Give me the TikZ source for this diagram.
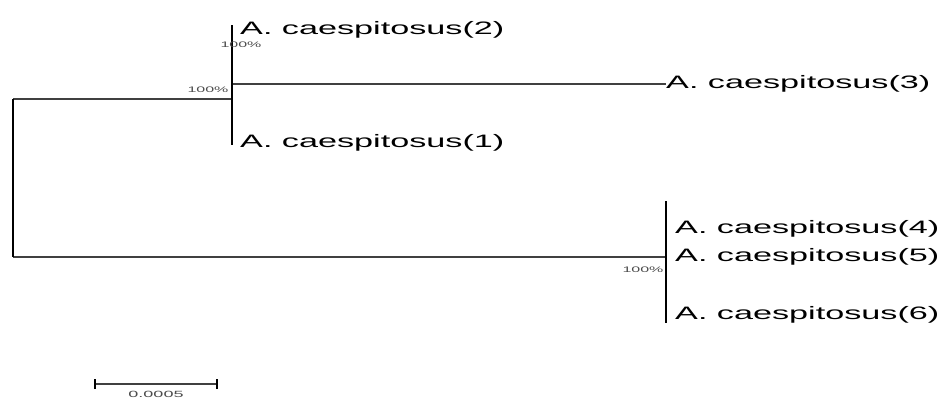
\documentclass[tikz,border=0pt]{standalone}
\usepackage{graphicx}
\usepackage{fontspec}
\setmainfont{Liberation Sans}
\usepackage{tikz}
\usetikzlibrary{positioning}

\newcommand{\taxon}[1]{\scalebox{1.9}[1]{A. caespitosus(#1)}}
\newcommand{\support}[1]{\scalebox{2}[1]{#1}}

\begin{document}
\begin{tikzpicture}[x=1pt, y=-1pt,
		leaf/.style={anchor=west, inner sep=0pt, font=\fontsize{18}{18}\selectfont},
		boot/.style={inner sep=0pt, text=black!70, font=\fontsize{8}{8}\selectfont},
		branch/.style={draw=black!75, line width=1.7pt},
		stem/.style={draw=black, line width=2.2pt}]
		\useasboundingbox (0,0) rectangle (943,399);
		
		% leaves
		\node[leaf] (t2) at (240,30) {\taxon{2}};
		\node[leaf] (t3) at (666,84) {\taxon{3}};
		\node[leaf] (t1) at (240,143) {\taxon{1}};
		\node[leaf] (t4) at (675,229) {\taxon{4}};
		\node[leaf] (t5) at (675,257) {\taxon{5}};
		\node[leaf] (t6) at (675,315) {\taxon{6}};
		
		% internal nodes
		\coordinate (ra) at (13,99);
		\coordinate (rb) at (13,257);
		\coordinate (na) at (232,99);
		\coordinate (nat) at (232,25);
		\coordinate (nab) at (232,145);
		\coordinate (nb) at (666,257);
		\coordinate (nbt) at (666,201);
		\coordinate (nbb) at (666,323);
		
		\path[branch]
		(ra) -- (na)
		(rb) -- (nb)
		(na |- t3) -- (t3.west);
		\path[stem]
		(ra) -- (rb)
		(nat) -- (nab)
		(nbt) -- (nbb);
		
		% bootstrap values
		\node[boot] (b1) at (241,45) {\support{100\%}};
		\node[boot] (b2) at (208,90) {\support{100\%}};
		\node[boot] (b3) at (643,270) {\support{100\%}};
		
		% scale bar
		\coordinate (sa) at (95,384);
		\coordinate (sb) at (217,384);
		\draw[branch] (sa) -- (sb);
		\draw[stem] ([yshift=-5pt]sa) -- ([yshift=5pt]sa)
		([yshift=-5pt]sb) -- ([yshift=5pt]sb);
		\node[boot, font=\fontsize{9}{9}\selectfont] (sl) at (156,394) {\support{0.0005}};
	\end{tikzpicture}
\end{document}
